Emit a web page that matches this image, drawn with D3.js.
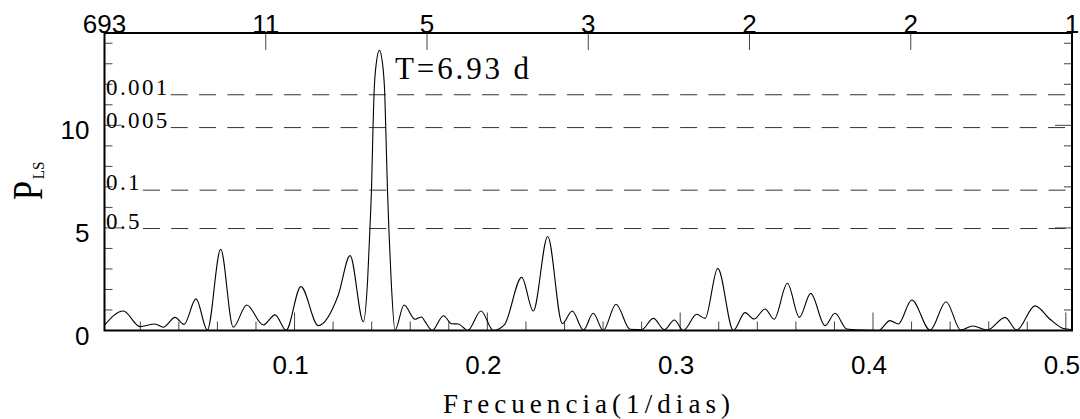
<!DOCTYPE html>
<html>
<head>
<meta charset="utf-8">
<script src="https://cdn.jsdelivr.net/npm/d3@7"></script>
<style>
  html, body { margin: 0; padding: 0; background: #fff; }
  svg { display: block; }
</style>
</head>
<body>
<svg id="chart" width="1080" height="419"></svg>
<script>
// periodogram (frequency in 1/dias, power P_LS)
const freq = [
    0.0015, 0.0112, 0.0199, 0.0276, 0.0319, 0.0380, 0.0427, 0.0489, 0.0548, 0.0617,
    0.0682, 0.0752, 0.0838, 0.0899, 0.0956, 0.1033, 0.1123, 0.1227, 0.1288, 0.1357,
    0.1379, 0.1391, 0.1399, 0.1407, 0.1412, 0.1425, 0.1440, 0.1455, 0.1468, 0.1473,
    0.1482, 0.1489, 0.1501, 0.1521,
    0.1568, 0.1625, 0.1659, 0.1677, 0.1714, 0.1772, 0.1815, 0.1849, 0.1898, 0.1967,
    0.2031, 0.2088, 0.2178, 0.2238, 0.2313, 0.2389, 0.2440, 0.2498, 0.2549, 0.2601,
    0.2667, 0.2740, 0.2800, 0.2861, 0.2918, 0.2970, 0.3016, 0.3086, 0.3129, 0.3195,
    0.3276, 0.3336, 0.3383, 0.3440, 0.3487, 0.3556, 0.3618, 0.3677, 0.3751, 0.3803,
    0.3864, 0.3933, 0.4028, 0.4088, 0.4131, 0.4201, 0.4296, 0.4379, 0.4455, 0.4517,
    0.4593, 0.4685, 0.4745, 0.4840, 0.4918, 0.4987, 0.5027
];
const power = [
    0.27, 0.95, 0.19, 0.32, 0.16, 0.64, 0.30, 1.54, 0.02, 3.96,
    0.16, 1.24, 0.27, 0.76, 0.01, 2.14, 0.24, 1.73, 3.65, 0.43,
    2.46, 5.00, 6.85, 9.89, 11.49, 13.10, 13.66, 13.10, 11.49, 9.89,
    6.85, 5.00, 2.46, 0.02,
    1.24, 0.55, 0.66, 0.43, 0.00, 0.72, 0.33, 0.32, 0.00, 0.95,
    0.00, 0.27, 2.59, 0.95, 4.58, 0.33, 0.95, 0.02, 0.84, 0.00,
    1.28, 0.06, 0.04, 0.59, 0.04, 0.51, 0.00, 0.79, 0.59, 3.03,
    0.00, 0.87, 0.56, 1.05, 0.55, 2.30, 0.64, 1.81, 0.24, 0.84,
    0.07, 0.02, 0.00, 0.48, 0.32, 1.49, 0.02, 1.40, 0.02, 0.22,
    0.02, 0.64, 0.02, 1.20, 0.55, 0.10, 0.05
];

// false alarm levels
const sigLabels = ['0.001', '0.005', '0.1', '0.5'];
const sigLevels = [11.49, 9.89, 6.84, 4.97];

// top axis: period (dias) at evenly spaced positions
const periodLabels = ['693', '11', '5', '3', '2', '2', '1'];

const xTickValues = [0.1, 0.2, 0.3, 0.4, 0.5];
const yTickValues = [0, 5, 10];
const peakText = 'T=6.93 d';

const svg = d3.select('#chart');
const pLeft = 104.5, pRight = 1072, pTop = 33, pBottom = 330.5;

const x = d3.scaleLinear().domain([1 / 693, 0.5032]).range([pLeft, pRight]);
const y = d3.scaleLinear().domain([0, 14.5]).range([pBottom, pTop]);
const xTop = d3.scalePoint().domain(d3.range(periodLabels.length)).range([pLeft, pRight]);

const sans = '"Liberation Sans", Arial, sans-serif';
const serif = '"Liberation Serif", "Times New Roman", serif';

// minor / major ticks
const g = svg.append('g');
const minorX = d3.range(1, 26).map(d => d * 0.02);
g.selectAll('.xt').data(minorX).enter().append('line')
    .attr('x1', d => x(d)).attr('x2', d => x(d))
    .attr('y1', pBottom)
    .attr('y2', (d, i) => pBottom - ((i + 1) % 5 === 0 ? 18 : 9))
    .style('stroke', '#444').style('stroke-width', 1);

const minorY = d3.range(1, 15);
[pLeft, pRight].forEach((edge, k) => {
    const dir = k === 0 ? 1 : -1;
    g.selectAll('.yt' + k).data(minorY).enter().append('line')
        .attr('x1', edge)
        .attr('x2', d => edge + dir * (d % 5 === 0 ? 17 : 8))
        .attr('y1', d => y(d)).attr('y2', d => y(d))
        .style('stroke', '#444').style('stroke-width', 1);
});

g.selectAll('.tt').data(periodLabels).enter().append('line')
    .attr('x1', (d, i) => xTop(i)).attr('x2', (d, i) => xTop(i))
    .attr('y1', pTop).attr('y2', pTop + 17)
    .style('stroke', '#444').style('stroke-width', 1);

// significance lines with their labels
sigLevels.forEach((lvl, i) => {
    const t = svg.append('text')
        .attr('x', 106).attr('y', y(lvl))
        .style('font-family', serif).style('font-size', '23px')
        .style('letter-spacing', '2.4px')
        .text(sigLabels[i]);
    const x0 = 106 + t.node().getComputedTextLength() + 1;
    svg.append('line')
        .attr('x1', x0).attr('x2', pRight)
        .attr('y1', y(lvl)).attr('y2', y(lvl))
        .style('stroke', '#333').style('stroke-width', 1)
        .style('stroke-dasharray', '17,11.3');
});

// the periodogram
const line = d3.line()
    .x(d => x(d[0]))
    .y(d => y(d[1]))
    .curve(d3.curveMonotoneX);

svg.append('path')
    .datum(freq.map((f, i) => [f, power[i]]))
    .attr('d', line)
    .style('fill', 'none')
    .style('stroke', '#000')
    .style('stroke-width', 1.1);

// frame
svg.append('rect')
    .attr('x', pLeft).attr('y', pTop)
    .attr('width', pRight - pLeft).attr('height', pBottom - pTop)
    .style('fill', 'none').style('stroke', '#000').style('stroke-width', 2);

// tick labels
svg.selectAll('.xl').data(xTickValues).enter().append('text')
    .attr('x', d => x(d) - 4).attr('y', pBottom + 43.5)
    .attr('text-anchor', 'middle')
    .style('font-family', sans).style('font-size', '26px')
    .text(d => d3.format('.1f')(d));

svg.selectAll('.yl').data(yTickValues).enter().append('text')
    .attr('x', 89.5).attr('y', d => y(d) + 14)
    .attr('text-anchor', 'end')
    .style('font-family', sans).style('font-size', '26px')
    .text(d => d);

svg.selectAll('.pl').data(periodLabels).enter().append('text')
    .attr('x', (d, i) => xTop(i)).attr('y', pTop - 0.5)
    .attr('text-anchor', 'middle')
    .style('font-family', sans).style('font-size', '26px')
    .text(d => d);

// annotations and axis titles
svg.append('text')
    .attr('x', 395).attr('y', 79)
    .attr('textLength', 134).attr('lengthAdjust', 'spacing')
    .style('font-family', serif).style('font-size', '31px')
    .text(peakText);

svg.append('text')
    .attr('x', 443).attr('y', 412.5)
    .attr('textLength', 287).attr('lengthAdjust', 'spacing')
    .style('font-family', serif).style('font-size', '27px')
    .text('Frecuencia(1/dias)');

const yl = svg.append('g').attr('transform', 'translate(42,200) rotate(-90)');
yl.append('text')
    .attr('x', 0).attr('y', 0)
    .attr('textLength', 19).attr('lengthAdjust', 'spacingAndGlyphs')
    .style('font-family', serif).style('font-size', '42px')
    .text('P');
yl.append('text')
    .attr('x', 20.7).attr('y', 1.5)
    .attr('textLength', 17.6).attr('lengthAdjust', 'spacingAndGlyphs')
    .style('font-family', serif).style('font-size', '17.5px')
    .text('LS');
</script>
</body>
</html>
